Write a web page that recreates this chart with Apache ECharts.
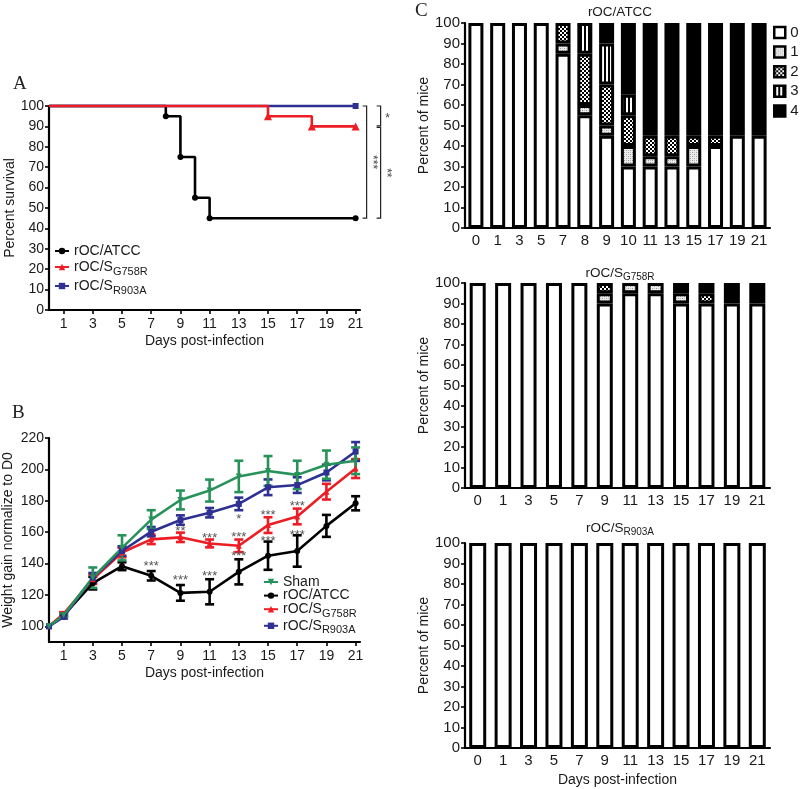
<!DOCTYPE html>
<html><head><meta charset="utf-8">
<script src="https://cdn.jsdelivr.net/npm/echarts@6.0.0/dist/echarts.min.js"></script>
<style>html,body{margin:0;padding:0;background:#fff}#c{width:800px;height:789px}</style>
</head><body><div id="c"></div>
<script>
// ===== Panel A: survival (Kaplan-Meier) =====
const survATCC  = [[0,100],[8,95],[9,75],[10,55],[11,45],[21,45]];
const survG758R = [[0,100],[15,95],[18,90],[21,90]];
const survR903A = [[0,100],[21,100]];
const dayTicks  = [1,3,5,7,9,11,13,15,17,19,21];
const survSig   = [['***',100,45],['*',100,90],['**',90,45]];

// ===== Panel B: weight gain =====
const weightDays = [0,1,3,5,7,9,11,13,15,17,19,21];
const shamMean  = [100,107,131,150,168,180.5,186.5,195.5,199,196.5,203,205.5];
const shamErr   = [0,1,6.5,8,6,6,7,10,9.5,9,9,8.5];
const atccMean  = [100,107,127.5,138.3,132.2,121.3,122,134.7,145,148,164,178.4];
const atccErr   = [0,1,4,2.5,3,5,8,8,9,10,7,4.5];
const g758rMean = [100,108,130,147,155.4,156.7,152.8,151.3,164.5,170,185.8,200.5];
const g758rErr  = [0,1,3,3,3,3,2.5,4,5,5,5,6];
const r903aMean = [100,106,131,148,160.3,167.7,172.4,178,188.6,190,198,211.4];
const r903aErr  = [0,1,3,3,3,3,3,4,5,5,5,6];
const weightTicks = [100,120,140,160,180,200,220];
const weightStars = [[7,140.2,'***'],[9,131.2,'***'],[9,162.5,'**'],[11,133.8,'***'],[11,158,'***'],
  [13,170.1,'*'],[13,158.6,'***'],[13,146.5,'***'],[15,172.7,'***'],[15,156,'***'],[17,178.4,'***'],[17,160,'***']];

// ===== Panel C: clinical scores (percent of mice) =====
const scoreNames = ['0','1','2','3','4'];
const atccDays = ['0','1','3','5','7','8','9','10','11','13','15','17','19','21'];
const atccS0 = [100,100,100,100,85,55,45,30,30,30,30,40,45,45];
const atccS1 = [0,0,0,0,5,5,5,10,5,5,10,0,0,0];
const atccS2 = [0,0,0,0,10,25,20,15,10,10,5,5,0,0];
const atccS3 = [0,0,0,0,0,15,20,10,0,0,0,0,0,0];
const atccS4 = [0,0,0,0,0,0,10,35,55,55,55,55,55,55];
const mutDays = ['0','1','3','5','7','9','11','13','15','17','19','21'];
const g758rS0 = [100,100,100,100,100,90,95,95,90,90,90,90];
const g758rS1 = [0,0,0,0,0,5,5,5,5,0,0,0];
const g758rS2 = [0,0,0,0,0,5,0,0,0,5,0,0];
const g758rS3 = [0,0,0,0,0,0,0,0,0,0,0,0];
const g758rS4 = [0,0,0,0,0,0,0,0,5,5,10,10];
const r903aS0 = [100,100,100,100,100,100,100,100,100,100,100,100];
const r903aS1 = [0,0,0,0,0,0,0,0,0,0,0,0];
const r903aS2 = [0,0,0,0,0,0,0,0,0,0,0,0];
const r903aS3 = [0,0,0,0,0,0,0,0,0,0,0,0];
const r903aS4 = [0,0,0,0,0,0,0,0,0,0,0,0];

// ---------- styling ----------
const FONT = 'Liberation Sans, Arial, Helvetica, sans-serif';
const C_BLACK = '#000000', C_RED = '#ee1c25', C_BLUE = '#2e3192', C_GREEN = '#27925a';
const TXT = '#1a1a1a';

function pattern(kind){
  const c = document.createElement('canvas');
  const g = c.getContext('2d');
  if (kind === 1){ c.width=4; c.height=4; g.fillStyle='#ececec'; g.fillRect(0,0,4,4);
    g.fillStyle='#9a9a9a'; g.fillRect(0,0,1,1); g.fillRect(2,2,1,1);
    g.fillStyle='#c4c4c4'; g.fillRect(2,0,1,1); g.fillRect(0,2,1,1); }
  else if (kind === 2){ c.width=4; c.height=4; g.fillStyle='#000'; g.fillRect(0,0,4,4);
    g.fillStyle='#fff'; g.fillRect(0,0,2,2); g.fillRect(2,2,2,2); }
  else { c.width=4; c.height=2; g.fillStyle='#fff'; g.fillRect(0,0,4,2);
    g.fillStyle='#000'; g.fillRect(0,0,2,2); }
  return {image:c, repeat:'repeat'};
}
const scoreFills = ['#ffffff', pattern(1), pattern(2), pattern(3), '#000000'];

const richTxt = (size, lh) => ({
  n:{fontFamily:FONT, fontSize:size, fontWeight:'normal', color:TXT, lineHeight:lh},
  s:{fontFamily:FONT, fontSize:Math.round(size*0.76), fontWeight:'normal', color:TXT, lineHeight:Math.round(size*0.76), verticalAlign:'bottom'}
});
const subFmt = name => {
  const i = name.indexOf('_');
  return i < 0 ? '{n|'+name+'}' : '{n|'+name.slice(0,i)+'}{s|'+name.slice(i+1)+'}';
};

const axisLineS = {show:true, lineStyle:{color:'#000', width:2.2}};
function valueX(grid, name){
  return {type:'value', gridIndex:grid, min:0, max:21.3,
    axisLine:axisLineS, splitLine:{show:false},
    axisTick:{show:true, customValues:dayTicks, length:4, lineStyle:{color:'#000',width:1.6}},
    axisLabel:{customValues:dayTicks, fontFamily:FONT, fontSize:14, color:TXT, margin:7},
    name:name, nameLocation:'middle', nameGap:24,
    nameTextStyle:{fontFamily:FONT, fontSize:14, color:TXT}};
}
function catX(grid, days, name){
  const a = {type:'category', gridIndex:grid, data:days,
    axisLine:axisLineS, axisTick:{show:false}, splitLine:{show:false},
    axisLabel:{fontFamily:FONT, fontSize:15, color:TXT, margin:5, interval:0}};
  if (name){ a.name = name; a.nameLocation='middle'; a.nameGap=25;
    a.nameTextStyle={fontFamily:FONT, fontSize:14, color:TXT}; }
  return a;
}
function pctY(grid, name, gap, fs){
  return {type:'value', gridIndex:grid, min:0, max:100, interval:10,
    axisLine:axisLineS, splitLine:{show:false},
    axisTick:{show:true, length:4, lineStyle:{color:'#000',width:1.6}},
    axisLabel:{fontFamily:FONT, fontSize:fs, color:TXT, margin:5},
    name:name, nameLocation:'middle', nameGap:gap, nameRotate:90,
    nameTextStyle:{fontFamily:FONT, fontSize:14, color:TXT}};
}

const series = [];
// ----- A -----
function survSeries(name, data, color, symbol, size){
  return {type:'line', name:name, xAxisIndex:0, yAxisIndex:0, step:'end',
    data:data.map((p,i)=>({value:p, symbol: i===0 ? 'none' : symbol})),
    symbol:symbol, symbolSize:size, color:color, itemStyle:{color:color},
    lineStyle:{color:color, width:2.6}, clip:false, z:3};
}
series.push(survSeries('rOC/ATCC', survATCC, C_BLACK, 'circle', 6));
series.push(survSeries('rOC/S_R903A', survR903A, C_BLUE, 'rect', 6));
series.push(survSeries('rOC/S_G758R', survG758R, C_RED, 'triangle', 8));

// ----- B -----
function errSeries(mean, err, color){
  return {type:'custom', xAxisIndex:1, yAxisIndex:1, z:4,
    data: weightDays.map((d,i)=>[d, mean[i], err[i]]),
    renderItem:(params, api)=>{
      const x=api.value(0), m=api.value(1), e=api.value(2);
      if (!e) return null;
      const t=api.coord([x,m+e]), b=api.coord([x,m-e]), w=4.5;
      const st={stroke:color, lineWidth:2.6};
      return {type:'group', children:[
        {type:'line', shape:{x1:t[0],y1:t[1],x2:b[0],y2:b[1]}, style:st},
        {type:'line', shape:{x1:t[0]-w,y1:t[1],x2:t[0]+w,y2:t[1]}, style:st},
        {type:'line', shape:{x1:b[0]-w,y1:b[1],x2:b[0]+w,y2:b[1]}, style:st}]};
    }};
}
function wLine(name, mean, color, symbol, rot){
  return {type:'line', name:name, xAxisIndex:1, yAxisIndex:1,
    data: weightDays.map((d,i)=>[d, mean[i]]), symbol:symbol, symbolSize:6, symbolRotate:rot||0,
    color:color, itemStyle:{color:color}, lineStyle:{color:color, width:2.6}, z:4};
}
series.push(wLine('rOC/ATCC', atccMean, C_BLACK, 'circle'), errSeries(atccMean, atccErr, C_BLACK));
series.push(wLine('rOC/S_G758R', g758rMean, C_RED, 'triangle'), errSeries(g758rMean, g758rErr, C_RED));
series.push(wLine('rOC/S_R903A', r903aMean, C_BLUE, 'rect'), errSeries(r903aMean, r903aErr, C_BLUE));
series.push(wLine('Sham', shamMean, C_GREEN, 'triangle', 180), errSeries(shamMean, shamErr, C_GREEN));
series.push({type:'custom', xAxisIndex:1, yAxisIndex:1, z:6, data:weightStars,
  renderItem:(params, api)=>{
    const p=api.coord([api.value(0), api.value(1)]);
    return {type:'text', x:p[0], y:p[1]+3, style:{text:weightStars[params.dataIndex][2],
      fill:'#555', font:'13px '+FONT, align:'center', verticalAlign:'middle'}};
  }});

// ----- C -----
const cPanels = [
  {axis:2, stack:'atcc', bw:15, data:[atccS0,atccS1,atccS2,atccS3,atccS4]},
  {axis:3, stack:'g758r', bw:16, data:[g758rS0,g758rS1,g758rS2,g758rS3,g758rS4]},
  {axis:4, stack:'r903a', bw:17, data:[r903aS0,r903aS1,r903aS2,r903aS3,r903aS4]}
];
cPanels.forEach(p=>{
  p.data.forEach((arr,s)=>{
    series.push({type:'bar', name:scoreNames[s], xAxisIndex:p.axis, yAxisIndex:p.axis, stack:p.stack,
      barWidth:p.bw, data:arr.map(v=> v ? v : '-'),
      itemStyle:{color:scoreFills[s], borderColor:'#000', borderWidth:3}});
  });
});

const chart = echarts.init(document.getElementById('c'), null, {renderer:'canvas', width:800, height:789});
const letter = (t,x,y)=>({text:t, left:x, top:y, padding:0,
  textStyle:{fontFamily:'Liberation Serif, Times New Roman, serif', fontSize:19, fontWeight:'normal', color:'#222'}});
const cTitle = (t,y)=>({text:subFmt(t), left:620, top:y, padding:0, textAlign:'center',
  textStyle:{fontWeight:'normal', rich:richTxt(13.5,18)}});

chart.setOption({
  animation:false,
  backgroundColor:'#fff',
  title:[letter('A',13,75), letter('B',12,404), letter('C',415,2),
    cTitle('rOC/ATCC',3), cTitle('rOC/S_G758R',264), cTitle('rOC/S_R903A',519)],
  grid:[
    {left:49, top:106, width:311, height:204, containLabel:false, outerBoundsMode:'none'},
    {left:49, top:438, width:311, height:204, containLabel:false, outerBoundsMode:'none'},
    {left:465, top:23, width:305, height:205, containLabel:false, outerBoundsMode:'none'},
    {left:465, top:283, width:305, height:205, containLabel:false, outerBoundsMode:'none'},
    {left:465, top:543, width:305, height:205, containLabel:false, outerBoundsMode:'none'}
  ],
  xAxis:[valueX(0,'Days post-infection'), valueX(1,'Days post-infection'),
    catX(2,atccDays), catX(3,mutDays), catX(4,mutDays,'Days post-infection')],
  yAxis:[
    pctY(0,'Percent survival',31,14),
    {type:'value', gridIndex:1, min:90, max:220,
      axisLine:axisLineS, splitLine:{show:false},
      axisTick:{show:true, customValues:weightTicks, length:4, lineStyle:{color:'#000',width:1.6}},
      axisLabel:{customValues:weightTicks, fontFamily:FONT, fontSize:14, color:TXT, margin:5},
      name:'Weight gain normalize to D0', nameLocation:'middle', nameGap:34, nameRotate:90,
      nameTextStyle:{fontFamily:FONT, fontSize:14, color:TXT}},
    pctY(2,'Percent of mice',30,15), pctY(3,'Percent of mice',30,15), pctY(4,'Percent of mice',30,15)
  ],
  legend:[
    {data:['rOC/ATCC','rOC/S_G758R','rOC/S_R903A'], orient:'vertical', left:54, top:244, padding:0,
      itemWidth:14, itemHeight:8, itemGap:2, formatter:subFmt,
      textStyle:{rich:richTxt(14,20)}},
    {data:['Sham','rOC/ATCC','rOC/S_G758R','rOC/S_R903A'], orient:'vertical', left:263, top:575, padding:0,
      itemWidth:14, itemHeight:8, itemGap:-0.4, formatter:subFmt,
      textStyle:{rich:richTxt(14,20)}},
    {data:scoreNames, orient:'vertical', left:773, top:25, padding:0, icon:'rect',
      itemWidth:11, itemHeight:11, itemGap:4.6,
      itemStyle:{borderColor:'#000', borderWidth:2.5},
      textStyle:{fontFamily:FONT, fontSize:15, color:TXT, lineHeight:12}}
  ],
  series:series
});

// significance brackets for panel A (positions from the axis scale)
const pix = (x,y)=>chart.convertToPixel({gridIndex:0},[x,y]);
const x21 = pix(21,100)[0];
const sigLayout = [{dx:11, lx:6, rot:true, gt:0, gb:0},{dx:25, lx:7, rot:false, gt:0, gb:-0.5},{dx:25, lx:6, rot:true, gt:1, gb:0}];
const gEls = [];
survSig.forEach((b,i)=>{
  const L = sigLayout[i];
  const yt = pix(21,b[1])[1] + L.gt, yb = pix(21,b[2])[1] + L.gb;
  const x = x21 + L.dx;
  gEls.push({type:'polyline', shape:{points:[[x-4,yt],[x,yt],[x,yb],[x-4,yb]]},
    style:{stroke:'#222', lineWidth:1.2, fill:null}});
  gEls.push({type:'text', x:x+L.lx, y:(yt+yb)/2 + (L.rot?0:3), rotation:L.rot?-Math.PI/2:0,
    style:{text:b[0], fill:'#444', font:'12px '+FONT, align:'center', verticalAlign:'middle'}});
});
chart.setOption({graphic:gEls});
</script>
</body></html>
